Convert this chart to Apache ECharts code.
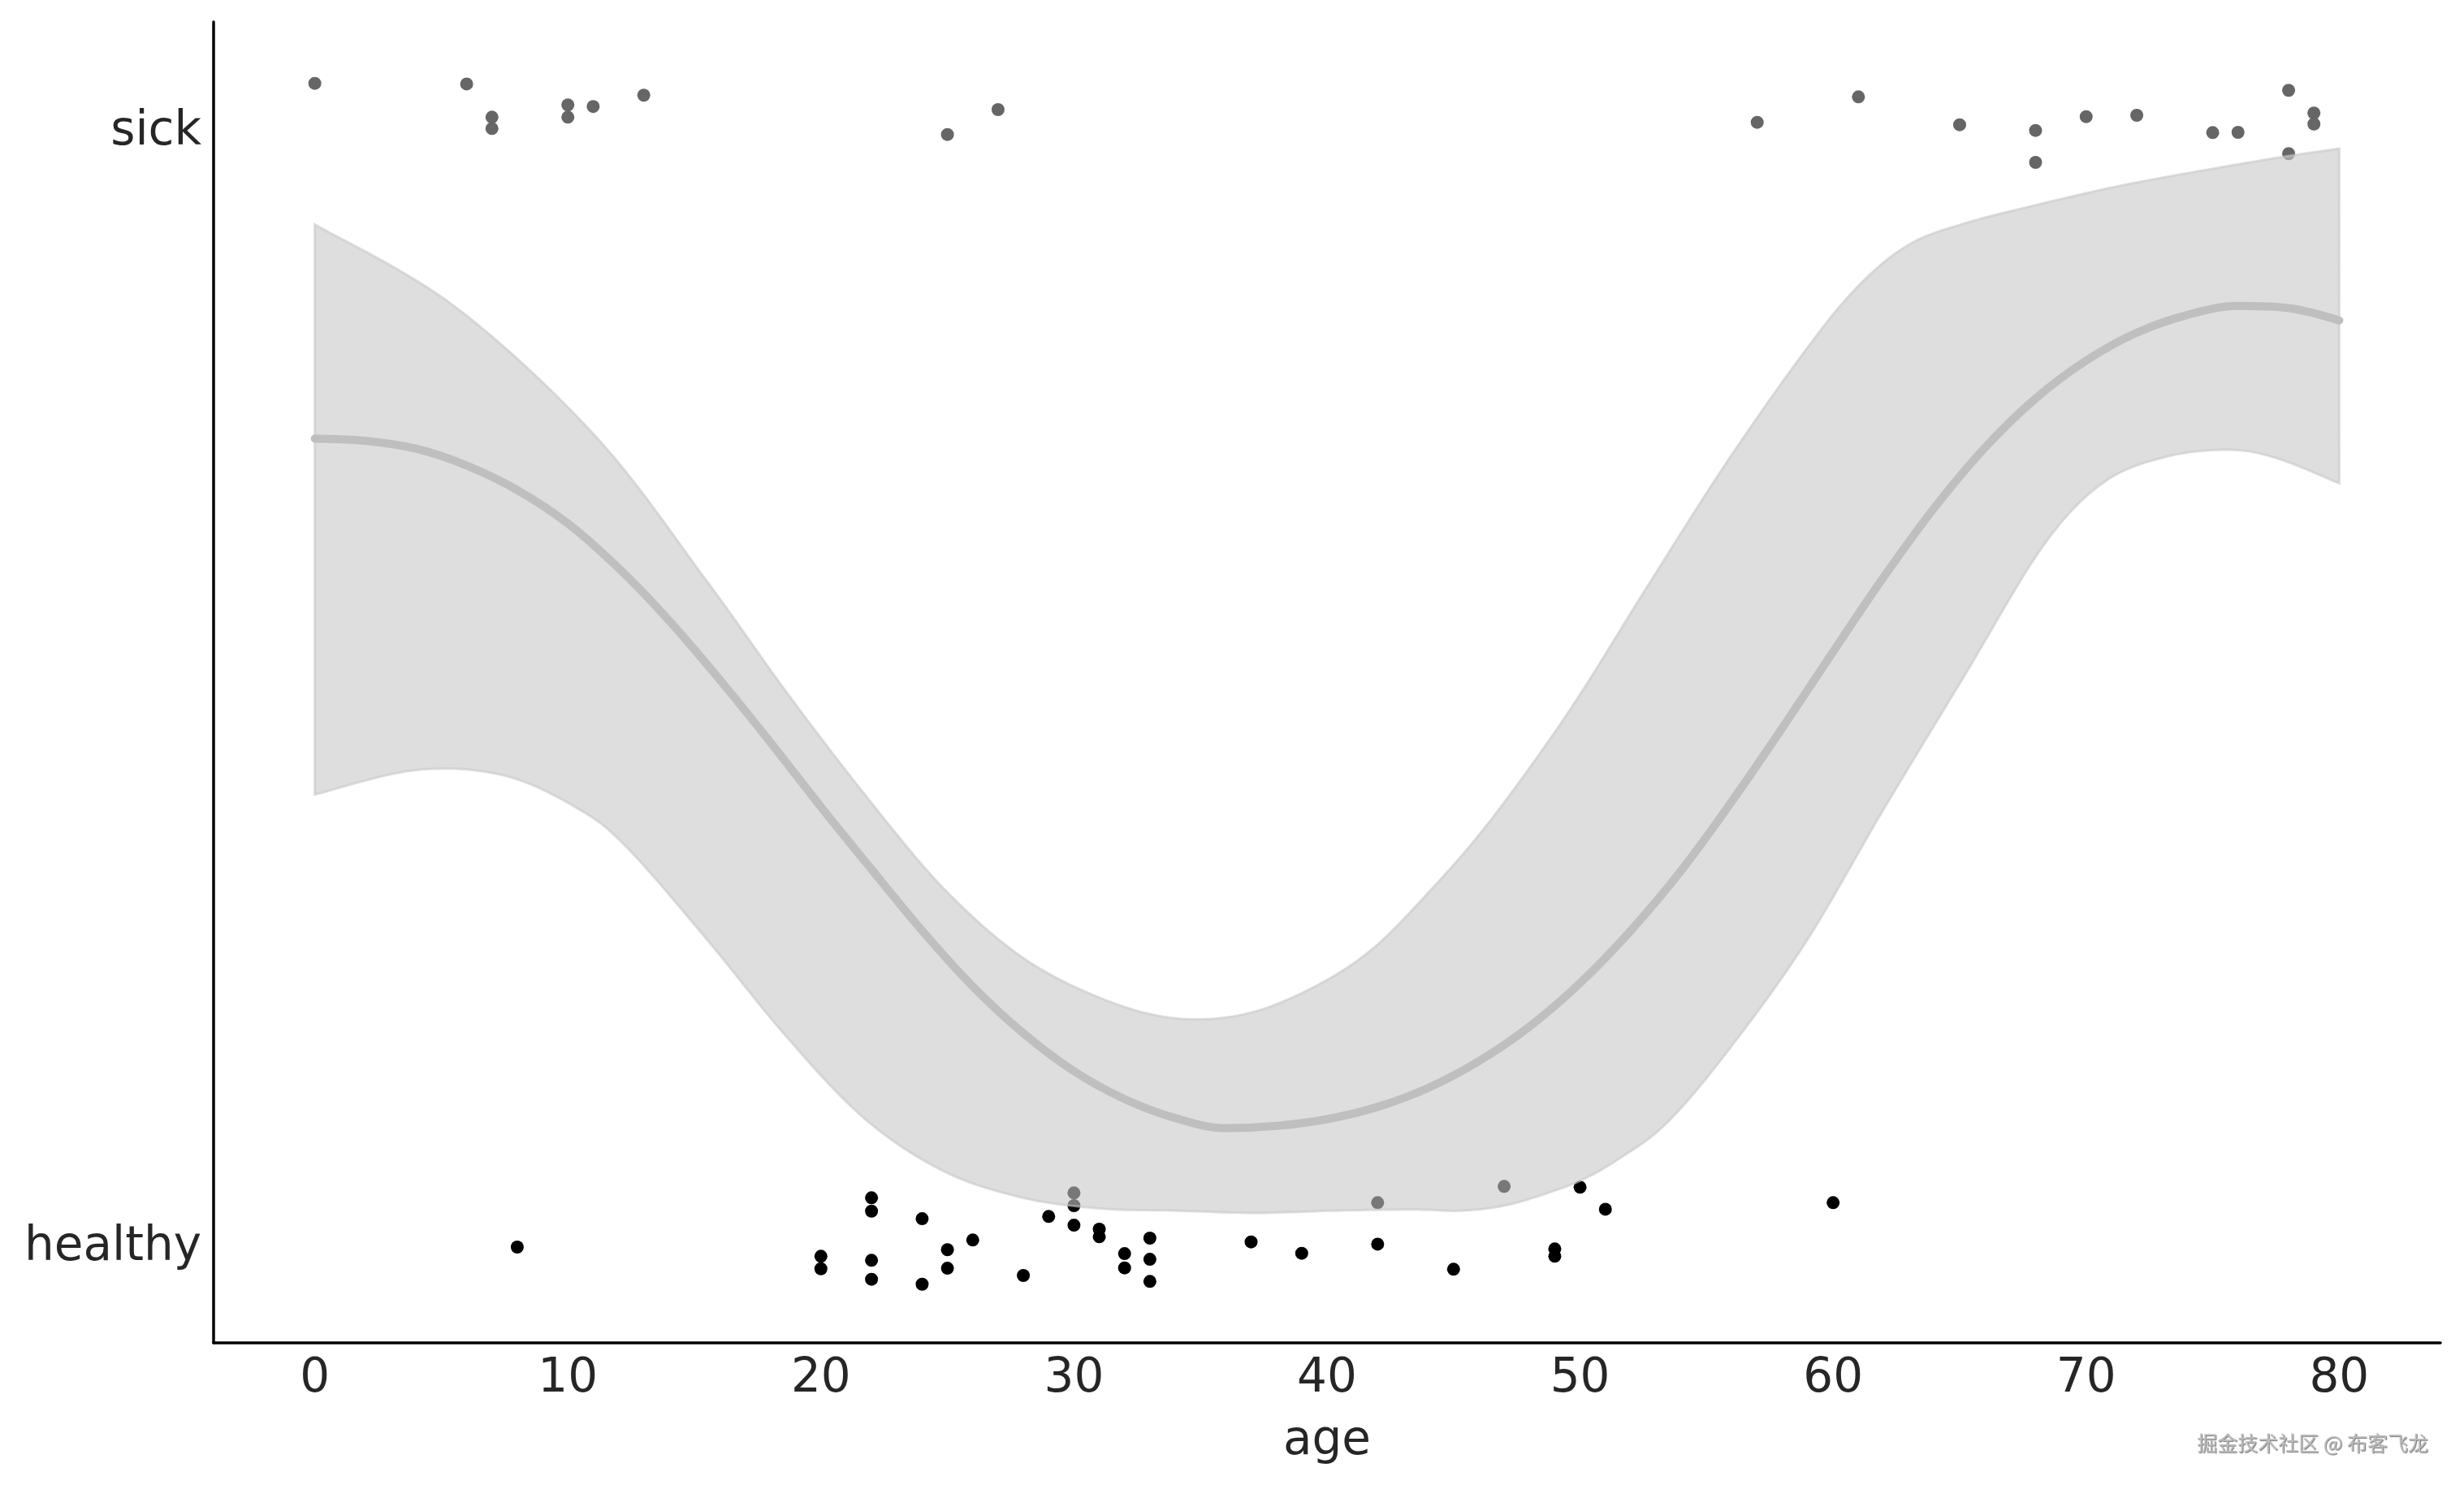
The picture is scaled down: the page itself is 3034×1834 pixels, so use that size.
<!DOCTYPE html>
<html>
<head>
<meta charset="utf-8">
<script src="https://cdn.jsdelivr.net/npm/echarts@6/dist/echarts.min.js"></script>
<style>
  html, body { margin: 0; padding: 0; background: #ffffff; }
  #chart { width: 3034px; height: 1834px; }
</style>
</head>
<body>
<div id="chart"></div>
<script>
// ---- data ----
const xTickValues = [0, 10, 20, 30, 40, 50, 60, 70, 80];
const yTickValues = [0, 1];
const yTickLabels = ['healthy', 'sick'];

const sickAges = [0, 6, 7, 7, 10, 10, 11, 13, 25, 27, 57, 61, 65, 68, 68, 70, 72, 75, 76, 78, 78, 79, 79];
const sickValues = [1.0395, 1.039, 1.0092, 0.999, 1.0202, 1.0092, 1.0188, 1.0289, 0.9937, 1.016,
  1.0046, 1.0274, 1.0024, 0.9973, 0.9687, 1.0097, 1.0109, 0.9954, 0.9956, 1.0333, 0.9765, 1.0129, 1.0031];

const healthyAges = [8, 20, 20, 22, 22, 22, 22, 24, 24, 25, 25, 26, 28, 29, 30, 30, 30, 31, 31, 32, 32, 33, 33, 33,
  37, 39, 42, 42, 45, 47, 49, 49, 50, 51, 60];
const healthyValues = [-0.0036, -0.0119, -0.0231, 0.0405, 0.0286, -0.0155, -0.0325, 0.0218, -0.0369, -0.006,
  -0.0226, 0.0027, -0.0291, 0.0238, 0.0449, 0.0335, 0.016, 0.0124, 0.0056, -0.0095, -0.0223, 0.0044, -0.0146,
  -0.0344, 0.001, -0.0092, 0.0362, -0.001, -0.0235, 0.0507, -0.0053, -0.0119, 0.05, 0.0303, 0.0362];

const fitAges = [0, 2, 4, 6, 8, 10, 12, 14, 16, 18, 20, 22, 24, 26, 28, 30, 32, 34, 36, 38, 40,
  42, 44, 46, 48, 50, 52, 54, 56, 58, 60, 62, 64, 66, 68, 70, 72, 74, 76, 78, 80];
const fitValues = [0.721, 0.719, 0.712, 0.697, 0.675, 0.645, 0.605, 0.558, 0.505, 0.449, 0.391,
  0.335, 0.280, 0.230, 0.188, 0.154, 0.129, 0.112, 0.103, 0.105, 0.111, 0.122, 0.139, 0.163,
  0.194, 0.233, 0.280, 0.334, 0.396, 0.462, 0.530, 0.597, 0.659, 0.713, 0.757, 0.791, 0.816,
  0.832, 0.840, 0.838, 0.827];

const upperAges = [0, 5.5, 11.1, 15.5, 18.6, 21.7, 24.8, 27.9, 31, 33.8, 36.5, 39, 41.6, 44, 46.5,
  49.6, 52.7, 55.8, 58.9, 61, 63, 65.2, 68.3, 71.4, 74.5, 77.6, 80];
const upperValues = [0.913, 0.840, 0.723, 0.593, 0.495, 0.403, 0.319, 0.257, 0.220, 0.202, 0.204,
  0.224, 0.260, 0.314, 0.380, 0.478, 0.590, 0.700, 0.800, 0.858, 0.895, 0.914, 0.932, 0.948, 0.961, 0.973, 0.981];

const lowerAges = [0, 4, 7.5, 10.5, 12.4, 15.5, 18.6, 21.7, 24.8, 27.9, 31, 34.1, 37.2, 40.3, 43.4,
  45.3, 47.1, 49, 50.2, 51.5, 53.4, 55.8, 58.9, 62, 65.2, 68.3, 70.7, 73.2, 75.7, 77.6, 80];
const lowerValues = [0.402, 0.424, 0.419, 0.388, 0.353, 0.272, 0.186, 0.112, 0.065, 0.041, 0.031,
  0.029, 0.027, 0.029, 0.030, 0.029, 0.034, 0.047, 0.058, 0.075, 0.107, 0.171, 0.269, 0.389,
  0.509, 0.625, 0.682, 0.705, 0.711, 0.703, 0.681];

const xName = 'age';
const watermark = '掘金技术社区 @ 布客飞龙';

// ---- helpers ----
function zip(a, b) { return a.map((v, i) => [v, b[i]]); }

// Catmull-Rom subdivision of pixel points (rendering only)
function smoothPx(pts, n) {
  const out = [];
  const L = pts.length;
  for (let i = 0; i < L - 1; i++) {
    const p0 = pts[Math.max(i - 1, 0)], p1 = pts[i], p2 = pts[i + 1], p3 = pts[Math.min(i + 2, L - 1)];
    for (let k = 0; k < n; k++) {
      const t = k / n, t2 = t * t, t3 = t2 * t;
      const f = (a, b, c, d) => 0.5 * ((2 * b) + (-a + c) * t + (2 * a - 5 * b + 4 * c - d) * t2 + (-a + 3 * b - 3 * c + d) * t3);
      out.push([f(p0[0], p1[0], p2[0], p3[0]), f(p0[1], p1[1], p2[1], p3[1])]);
    }
  }
  out.push(pts[L - 1]);
  return out;
}

const FONT = 'DejaVu Sans';
const TXT = '#262626';
const dotPath = 'path://M0,1A1,1,0,1,1,2,1A1,1,0,1,1,0,1Z';

const chart = echarts.init(document.getElementById('chart'), null, { renderer: 'canvas' });

chart.setOption({
  backgroundColor: '#ffffff',
  animation: false,
  grid: { left: 263, right: 29, top: 27, bottom: 180, containLabel: false },
  xAxis: {
    type: 'value',
    min: -4, max: 84,
    name: xName,
    nameLocation: 'middle',
    nameGap: 93,
    nameTextStyle: { fontFamily: FONT, fontSize: 58, color: TXT },
    axisLine: { show: true, onZero: false, lineStyle: { color: '#000', width: 3.5 } },
    axisTick: { show: false },
    splitLine: { show: false },
    axisLabel: {
      customValues: xTickValues,
      fontFamily: FONT, fontSize: 58, color: TXT, margin: 16
    }
  },
  yAxis: {
    type: 'value',
    min: -0.0895, max: 1.0946,
    axisLine: { show: true, onZero: false, lineStyle: { color: '#000', width: 3.5 } },
    axisTick: { show: false },
    splitLine: { show: false },
    axisLabel: {
      customValues: yTickValues,
      formatter: v => '{t|' + yTickLabels[yTickValues.indexOf(Math.round(v))] + '}',
      margin: 15,
      rich: {
        t: { fontFamily: FONT, fontSize: 58, color: TXT, padding: [11, 0, 0, 0] }
      }
    }
  },
  graphic: [{
    type: 'text',
    right: 44, bottom: 44,
    z: 100,
    style: {
      text: watermark,
      font: '25px "Noto Sans CJK SC"',
      fill: '#bdbdbd',
      textShadowColor: 'rgba(70,70,70,0.75)',
      textShadowBlur: 1,
      textShadowOffsetX: 1,
      textShadowOffsetY: 1
    }
  }],
  series: [
    {
      type: 'scatter', name: 'sick', z: 2,
      symbol: dotPath, symbolSize: 16,
      itemStyle: { color: '#666666', opacity: 1 },
      data: zip(sickAges, sickValues)
    },
    {
      type: 'scatter', name: 'healthy', z: 2,
      symbol: dotPath, symbolSize: 16,
      itemStyle: { color: '#000000', opacity: 1 },
      data: zip(healthyAges, healthyValues)
    },
    {
      type: 'custom', name: 'ci', z: 3,
      coordinateSystem: 'cartesian2d',
      data: [[0, 0]],
      encode: { x: 0, y: 1 },
      renderItem: function (params, api) {
        const up = upperAges.map((a, i) => api.coord([a, upperValues[i]]));
        const lo = lowerAges.map((a, i) => api.coord([a, lowerValues[i]]));
        const upS = smoothPx(up, 12);
        const loS = smoothPx(lo, 12).reverse();
        return {
          type: 'polygon',
          shape: { points: upS.concat(loS) },
          style: {
            fill: 'rgba(200,200,200,0.6)',
            stroke: 'rgba(200,200,200,0.6)',
            lineWidth: 3
          }
        };
      }
    },
    {
      type: 'line', name: 'fit', z: 4,
      smooth: 0.35,
      showSymbol: false,
      lineStyle: { color: '#bfbfbf', width: 10, cap: 'round' },
      data: zip(fitAges, fitValues)
    }
  ]
});
</script>
</body>
</html>
